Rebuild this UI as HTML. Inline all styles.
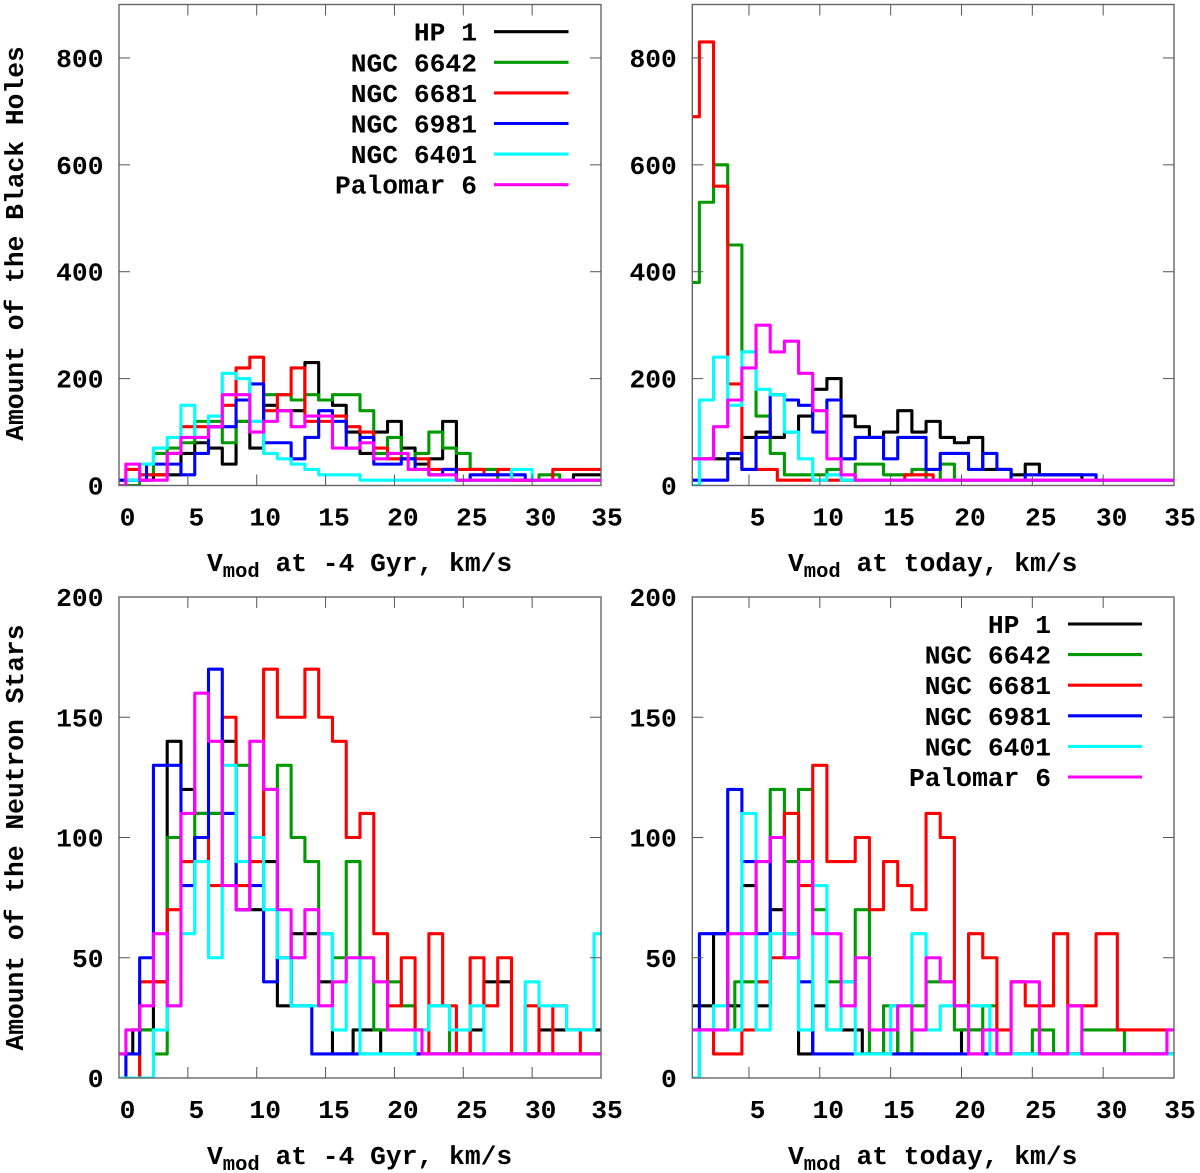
<!DOCTYPE html>
<html lang="en">
<head>
<meta charset="utf-8">
<title>Velocity distributions of black holes and neutron stars</title>
<style>
  html,body{margin:0;padding:0;background:#fff;}
  svg{display:block;}
  text{font-family:"Liberation Mono",monospace;font-weight:bold;font-size:26.3px;fill:#000;}
  .sub{font-size:20.5px;}
</style>
</head>
<body>
<svg id="figure" xmlns="http://www.w3.org/2000/svg" width="1200" height="1173" viewBox="0 0 1200 1173">
  <rect x="0" y="0" width="1200" height="1173" fill="#fff"/>
  <defs>
    <clipPath id="clip-tl"><rect x="119" y="4.5" width="482" height="481"/></clipPath>
    <clipPath id="clip-tr"><rect x="692.3" y="4.5" width="481.7" height="481"/></clipPath>
    <clipPath id="clip-bl"><rect x="119" y="597" width="482" height="481"/></clipPath>
    <clipPath id="clip-br"><rect x="692.3" y="597" width="481.7" height="481"/></clipPath>
  </defs>

  <g id="panel-tl"></g>
  <g id="panel-tr"></g>
  <g id="panel-bl"></g>
  <g id="panel-br"></g>

  <text transform="translate(23,243.5) rotate(-90)" text-anchor="middle">Amount of the Black Holes</text>
  <text transform="translate(23,837.5) rotate(-90)" text-anchor="middle">Amount of the Neutron Stars</text>

  <text x="207" y="571">V<tspan class="sub" dy="6">mod</tspan><tspan dy="-6"> at -4 Gyr, km/s</tspan></text>
  <text x="788" y="571">V<tspan class="sub" dy="6">mod</tspan><tspan dy="-6"> at today, km/s</tspan></text>
  <text x="207" y="1164">V<tspan class="sub" dy="6">mod</tspan><tspan dy="-6"> at -4 Gyr, km/s</tspan></text>
  <text x="788" y="1164">V<tspan class="sub" dy="6">mod</tspan><tspan dy="-6"> at today, km/s</tspan></text>

  <g id="legend-top"></g>
  <g id="legend-bottom"></g>
</svg>

<script>
// Series names and colours
const seriesNames = ["HP 1", "NGC 6642", "NGC 6681", "NGC 6981", "NGC 6401", "Palomar 6"];
const seriesColors = ["#000000", "#009900", "#ff0000", "#0000ff", "#00ffff", "#ff00ff"];

// Bin centres are integers; null means the bin is absent from the histogram
// Black holes at -4 Gyr, bins 0..35
const bhPastHP1 = [0,10,10,20,20,60,80,70,40,120,70,150,140,140,230,160,150,100,60,100,120,70,40,50,120,10,10,10,10,10,10,10,10,null,20,20];
const bhPastN6642 = [0,0,20,60,70,80,120,120,80,120,120,170,170,160,170,160,170,170,140,60,90,50,60,100,70,60,30,30,10,10,10,20,null,10,10,10];
const bhPastN6681 = [10,30,20,20,60,110,110,110,150,220,240,140,170,220,120,120,130,110,100,70,50,50,50,30,30,30,30,20,30,10,10,10,30,30,30,30];
const bhPastN6981 = [10,10,null,40,40,20,60,110,110,160,190,80,80,50,90,140,120,70,90,40,40,50,30,20,30,10,20,20,20,20,10,10,10,10,10,10];
const bhPastN6401 = [0,10,40,70,90,150,90,130,210,200,120,60,50,40,30,20,20,20,10,10,10,10,10,10,10,10,10,10,10,30,null,10,10,10,10,10];
const bhPastPal6 = [0,40,10,10,60,90,90,110,170,170,100,120,140,110,130,130,70,70,80,50,60,null,30,20,20,10,10,10,10,10,10,10,10,10,10,10];

// Black holes today, bins 1..35
const bhNowHP1 = [50,50,50,50,90,100,90,100,130,180,200,130,110,90,100,140,100,120,90,80,90,30,30,20,40,20,20,20,10,10,10,10,10,10,10];
const bhNowN6642 = [380,530,600,450,250,130,60,20,20,20,30,10,40,40,20,20,30,10,40,10,10,10,10,10,10,10,10,10,10,10,10,10,10,10,10];
const bhNowN6681 = [690,830,560,190,30,30,null,10,10,10,10,10,10,10,10,null,20,null,10,10,10,10,10,10,10,10,10,10,10,10,10,10,10,10,10];
const bhNowN6981 = [10,10,10,60,30,90,170,160,150,100,160,50,90,90,50,90,90,30,60,60,30,60,30,10,20,20,20,20,20,10,10,10,10,10,10];
const bhNowN6401 = [0,160,240,150,250,180,170,100,50,10,20,10,10,10,10,10,10,10,10,10,10,10,10,10,10,10,10,10,10,10,10,10,10,10,10];
const bhNowPal6 = [50,50,110,160,220,300,250,270,210,140,50,20,10,10,10,10,10,10,10,10,10,10,10,10,10,10,10,10,10,10,10,10,10,10,10];

// Neutron stars at -4 Gyr, bins 0..35
const nsPastHP1 = [10,null,20,40,140,120,110,110,140,70,70,90,30,60,60,40,10,null,20,null,10,10,10,10,10,10,20,40,40,10,10,20,20,20,20,20];
const nsPastN6642 = [0,0,20,10,100,90,110,110,110,130,90,120,130,100,90,60,50,90,50,20,40,30,20,30,null,10,10,10,10,10,10,10,10,10,10,10];
const nsPastN6681 = [0,0,40,40,70,90,100,80,150,80,90,170,150,150,170,150,140,100,110,60,30,50,10,60,30,10,50,30,50,10,30,10,30,20,10,10];
const nsPastN6981 = [0,10,50,130,130,80,100,170,110,70,80,40,50,30,null,10,10,10,10,10,10,10,10,10,10,10,10,10,10,10,10,10,10,10,10,10];
const nsPastN6401 = [0,0,0,20,30,60,90,50,130,90,100,70,50,30,30,60,20,50,10,10,10,10,20,30,null,20,30,10,10,10,40,30,30,20,20,60];
const nsPastPal6 = [10,20,30,60,30,110,160,140,80,70,140,120,70,50,70,30,40,50,50,40,20,20,null,10,10,10,10,10,10,10,10,10,10,10,10,10];

// Neutron stars today, bins 1..35
const nsNowHP1 = [30,30,60,30,80,30,70,60,10,30,20,20,null,10,20,10,10,10,10,null,20,10,10,10,10,10,10,10,10,10,10,10,10,10,10];
const nsNowN6642 = [20,20,20,null,40,40,120,90,120,70,40,40,70,10,30,10,30,40,40,20,20,30,10,10,null,20,10,10,20,20,20,10,10,10,10];
const nsNowN6681 = [20,20,10,10,20,40,50,110,80,130,90,90,100,70,90,80,70,110,100,30,60,50,20,40,30,30,60,30,30,60,null,20,20,20,20];
const nsNowN6981 = [0,60,60,120,90,60,100,50,40,10,10,10,10,10,10,10,10,10,10,10,10,10,10,10,10,10,10,10,10,10,10,10,10,10,10];
const nsNowN6401 = [0,20,30,20,110,20,60,60,20,80,20,40,10,10,null,30,60,20,30,30,30,null,10,10,10,10,10,10,10,10,10,10,10,10,10];
const nsNowPal6 = [20,20,20,60,60,90,100,50,90,60,60,30,50,20,20,30,20,50,40,30,10,20,10,40,40,10,10,30,10,10,10,10,10,10,20];

// Tick labels
const xTicksPast = [0,5,10,15,20,25,30,35];
const xTicksNow = [5,10,15,20,25,30,35];
const yTicksBH = [0,200,400,600,800];
const yTicksNS = [0,50,100,150,200];

const NS = "http://www.w3.org/2000/svg";

function makeAxis(d0, d1, r0, r1) {
  return function (v) { return r0 + (v - d0) * (r1 - r0) / (d1 - d0); };
}

function svgEl(tag, attrs, parent) {
  const el = document.createElementNS(NS, tag);
  Object.keys(attrs).forEach(function (k) { el.setAttribute(k, attrs[k]); });
  parent.appendChild(el);
  return el;
}

function stepPath(values, firstX, lastX, sx, sy) {
  const pts = [];
  values.forEach(function (v, i) {
    if (v !== null) pts.push([firstX + i, v]);
  });
  let d = "M" + sx(firstX).toFixed(2) + " " + sy(pts[0][1]).toFixed(2);
  for (let i = 1; i < pts.length; i++) {
    const edge = sx((pts[i - 1][0] + pts[i][0]) / 2).toFixed(2);
    d += "H" + edge + "V" + sy(pts[i][1]).toFixed(2);
  }
  d += "H" + sx(lastX).toFixed(2);
  return d;
}

function drawPanel(cfg) {
  const g = document.getElementById(cfg.id);
  const sx = makeAxis(cfg.xMin, 35, cfg.left, cfg.right);
  const sy = makeAxis(0, cfg.yMax, cfg.bottom, cfg.top);

  cfg.series.forEach(function (values, i) {
    const p = svgEl("path", {
      d: stepPath(values, cfg.xMin, 35, sx, sy),
      fill: "none",
      stroke: seriesColors[i],
      "stroke-width": "3.1",
      "stroke-linejoin": "round",
      "clip-path": "url(#" + cfg.clip + ")"
    }, g);
    
    
    p.setAttribute('aria-label', seriesNames[i]);
  });

  const frame = svgEl("rect", {
    x: cfg.left, y: cfg.top,
    width: cfg.right - cfg.left, height: cfg.bottom - cfg.top,
    fill: "none", stroke: "#666", "stroke-width": "1.4"
  }, g);
  
  

  cfg.xTicks.forEach(function (v) {
    const x = sx(v);
    if (v !== cfg.xMin && v !== 35) {
      const t1 = svgEl("line", { x1: x, x2: x, y1: cfg.bottom, y2: cfg.bottom - 11, stroke: "#555", "stroke-width": "1" }, g);
      
      
      const t2 = svgEl("line", { x1: x, x2: x, y1: cfg.top, y2: cfg.top + 11, stroke: "#555", "stroke-width": "1" }, g);
      
      
    }
    const lab = svgEl("text", {
      x: Math.min(x + 8.5, cfg.right + 6), y: cfg.bottom + 40, "text-anchor": "middle"
    }, g);
    lab.textContent = String(v);
    
    
  });

  cfg.yTicks.forEach(function (v) {
    const y = sy(v);
    if (v !== 0 && v !== cfg.yMax) {
      const t1 = svgEl("line", { x1: cfg.left, x2: cfg.left + 11, y1: y, y2: y, stroke: "#555", "stroke-width": "1" }, g);
      
      
      const t2 = svgEl("line", { x1: cfg.right, x2: cfg.right - 11, y1: y, y2: y, stroke: "#555", "stroke-width": "1" }, g);
      
      
    }
    const lab = svgEl("text", {
      x: cfg.left - 15.5, y: y + 9, "text-anchor": "end"
    }, g);
    lab.textContent = String(v);
    
    
  });
}

function drawLegend(id, textRight, lineX1, lineX2, firstY) {
  const g = document.getElementById(id);
  seriesNames.forEach(function (name, i) {
    const y = firstY + i * 30.6;
    const label = svgEl("text", { x: textRight, y: y + 9, "text-anchor": "end" }, g);
    label.textContent = name;
    
    
    const sample = svgEl("line", { x1: lineX1, x2: lineX2, y1: y, y2: y, stroke: seriesColors[i], "stroke-width": "3.1" }, g);
    
    
  });
}

drawPanel({ id: "panel-tl", clip: "clip-tl", left: 119, right: 601, top: 4.5, bottom: 485.5, xMin: 0, yMax: 900,
  xTicks: xTicksPast, yTicks: yTicksBH,
  series: [bhPastHP1, bhPastN6642, bhPastN6681, bhPastN6981, bhPastN6401, bhPastPal6] });
drawPanel({ id: "panel-tr", clip: "clip-tr", left: 692.3, right: 1174, top: 4.5, bottom: 485.5, xMin: 1, yMax: 900,
  xTicks: xTicksNow, yTicks: yTicksBH,
  series: [bhNowHP1, bhNowN6642, bhNowN6681, bhNowN6981, bhNowN6401, bhNowPal6] });
drawPanel({ id: "panel-bl", clip: "clip-bl", left: 119, right: 601, top: 597, bottom: 1078, xMin: 0, yMax: 200,
  xTicks: xTicksPast, yTicks: yTicksNS,
  series: [nsPastHP1, nsPastN6642, nsPastN6681, nsPastN6981, nsPastN6401, nsPastPal6] });
drawPanel({ id: "panel-br", clip: "clip-br", left: 692.3, right: 1174, top: 597, bottom: 1078, xMin: 1, yMax: 200,
  xTicks: xTicksNow, yTicks: yTicksNS,
  series: [nsNowHP1, nsNowN6642, nsNowN6681, nsNowN6981, nsNowN6401, nsNowPal6] });

drawLegend("legend-top", 477, 494, 568.5, 31.7);
drawLegend("legend-bottom", 1051, 1068, 1142, 624);
</script>
</body>
</html>
